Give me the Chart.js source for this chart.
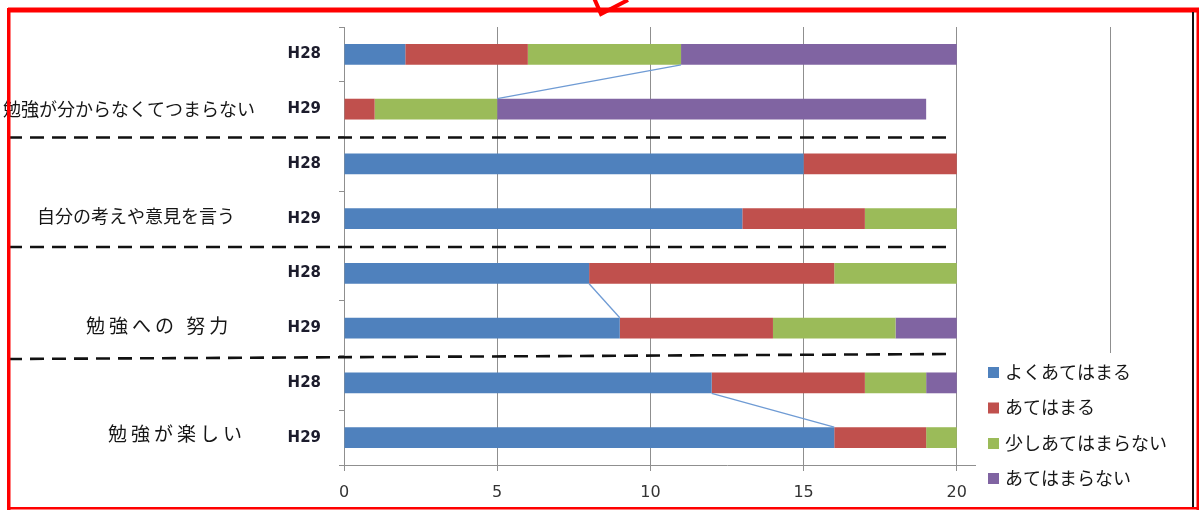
<!DOCTYPE html>
<html lang="ja">
<head>
<meta charset="utf-8">
<title>アンケート結果 H28・H29</title>
<script src="https://cdn.jsdelivr.net/npm/chart.js@4.4.1/dist/chart.umd.min.js"></script>
<style>
  html, body { margin: 0; padding: 0; background: #ffffff; }
  #wrap { position: relative; width: 1199px; height: 510px; }
  canvas { display: block; }
</style>
</head>
<body>
<div id="wrap"><canvas id="c" width="1199" height="510"></canvas></div>
<script>
// Year of each bar, top to bottom
const yearLabels = ['H28', 'H29', 'H28', 'H29', 'H28', 'H29', 'H28', 'H29'];
// Question for each pair of bars
const groupLabels = ['勉強が分からなくてつまらない', '自分の考えや意見を言う', '勉強への 努力', '勉強が楽しい'];
// Answer categories
const seriesNames = ['よくあてはまる', 'あてはまる', '少しあてはまらない', 'あてはまらない'];
// Number of students per answer
const veryTrue     = [2, 0, 15, 13, 8, 9, 12, 16];
const somewhatTrue = [4, 1, 5, 4, 8, 5, 5, 3];
const slightlyNot  = [5, 4, 0, 3, 4, 4, 2, 1];
const notTrue      = [9, 14, 0, 0, 0, 2, 1, 0];
// Value axis ticks
const xTickValues = [0, 5, 10, 15, 20, 25];

const seriesColors = ['#4f81bd', '#c0504d', '#9bbb59', '#8064a2'];
const seriesValues = [veryTrue, somewhatTrue, slightlyNot, notTrue];

// Series lines joining the end of one segment in the H28 bar to the H29 bar
const seriesLinks = [
  { series: 2, from: 0, to: 1 },
  { series: 0, from: 4, to: 5 },
  { series: 0, from: 6, to: 7 }
];

const CJK = '"Noto Sans CJK JP", "Noto Sans CJK SC", sans-serif';

// Question labels, drawn beside the H29 bar of each pair
const groupLabelStyle = [
  { x: 3,   dy: 0.5, size: 18, spacing: 0 },
  { x: 37,  dy: -2,  size: 18, spacing: 0 },
  { x: 86,  dy: -2,  size: 19, spacing: 4 },
  { x: 108, dy: -4,  size: 19, spacing: 4 }
];

const annotations = {
  id: 'annotations',
  afterDatasetsDraw(chart) {
    const ctx = chart.ctx;
    ctx.save();
    ctx.strokeStyle = '#6f9bd4';
    ctx.lineWidth = 1.3;
    seriesLinks.forEach(link => {
      const meta = chart.getDatasetMeta(link.series);
      const a = meta.data[link.from];
      const b = meta.data[link.to];
      ctx.beginPath();
      ctx.moveTo(a.x, a.y + a.height / 2);
      ctx.lineTo(b.x, b.y - b.height / 2);
      ctx.stroke();
    });
    ctx.restore();
  },
  afterDraw(chart) {
    const ctx = chart.ctx;
    const ys = chart.scales.y;
    ctx.save();

    // question labels
    ctx.fillStyle = '#161616';
    ctx.textAlign = 'left';
    ctx.textBaseline = 'middle';
    groupLabels.forEach((txt, g) => {
      const st = groupLabelStyle[g];
      ctx.font = st.size + 'px ' + CJK;
      ctx.letterSpacing = st.spacing + 'px';
      ctx.fillText(txt, st.x, ys.getPixelForValue(2 * g + 1) + st.dy);
    });
    ctx.letterSpacing = '0px';

    // dashed separators between the questions
    ctx.strokeStyle = '#111111';
    ctx.lineWidth = 2.6;
    ctx.setLineDash([14, 8]);
    for (let g = 1; g < groupLabels.length; g++) {
      const yb = (ys.getPixelForValue(2 * g - 1) + ys.getPixelForValue(2 * g)) / 2 + 1;
      const tilt = g === 3 ? 2.5 : 0;
      ctx.beginPath();
      ctx.moveTo(8, yb + tilt);
      ctx.lineTo(950, yb - tilt);
      ctx.stroke();
    }
    ctx.setLineDash([]);

    // legend box
    ctx.fillStyle = '#ffffff';
    ctx.fillRect(976, 353, 214, 152);
    ctx.font = '18px ' + CJK;
    ctx.textBaseline = 'middle';
    const legendY = [372, 407.5, 443, 478];
    chart.data.datasets.forEach((ds, i) => {
      ctx.fillStyle = ds.backgroundColor;
      ctx.fillRect(988, legendY[i] - 5, 11, 11);
      ctx.fillStyle = '#161616';
      ctx.fillText(ds.label, 1005, legendY[i]);
    });

    // frame
    ctx.fillStyle = '#ff0000';
    ctx.fillRect(8, 7.5, 1191, 5);
    ctx.fillRect(7, 8, 3.5, 502);
    ctx.fillRect(8, 507, 1191, 2.5);
    ctx.fillRect(1196.5, 8, 2.5, 502);
    ctx.fillStyle = '#111111';
    ctx.fillRect(1192, 12, 2, 495);

    // pen mark at the top edge
    ctx.strokeStyle = '#ff0000';
    ctx.lineWidth = 4;
    ctx.lineJoin = 'miter';
    ctx.beginPath();
    ctx.moveTo(594, -2);
    ctx.lineTo(601, 14);
    ctx.lineTo(628, 0);
    ctx.stroke();

    ctx.restore();
  }
};

const chart = new Chart(document.getElementById('c'), {
  type: 'bar',
  data: {
    labels: yearLabels,
    datasets: seriesNames.map((name, i) => ({
      label: name,
      data: seriesValues[i],
      backgroundColor: seriesColors[i],
      borderWidth: 0,
      barPercentage: 0.38,
      categoryPercentage: 1.0
    }))
  },
  options: {
    indexAxis: 'y',
    responsive: false,
    animation: false,
    layout: { padding: { top: 25, right: 89, left: 0, bottom: 0 } },
    plugins: {
      legend: { display: false },
      tooltip: { enabled: false }
    },
    scales: {
      x: {
        stacked: true,
        min: 0,
        max: 25,
        afterBuildTicks: s => { s.ticks = xTickValues.map(v => ({ value: v })); },
        ticks: {
          color: '#333333',
          padding: 12,
          font: { family: '"DejaVu Sans", sans-serif', size: 16 },
          maxRotation: 0
        },
        grid: { color: '#8f8f8f', lineWidth: 1, tickLength: 6 },
        border: { color: '#8f8f8f' },
        afterFit: s => { s.height = 45; }
      },
      y: {
        stacked: true,
        offset: true,
        ticks: {
          color: '#1c1c2c',
          padding: 18,
          font: { family: '"DejaVu Sans", sans-serif', size: 15, weight: 'bold' }
        },
        grid: { offset: true, drawOnChartArea: false, tickLength: 5, color: '#8f8f8f' },
        border: { color: '#8f8f8f' },
        afterFit: s => { s.width = 344; }
      }
    }
  },
  plugins: [annotations]
});
</script>
</body>
</html>
